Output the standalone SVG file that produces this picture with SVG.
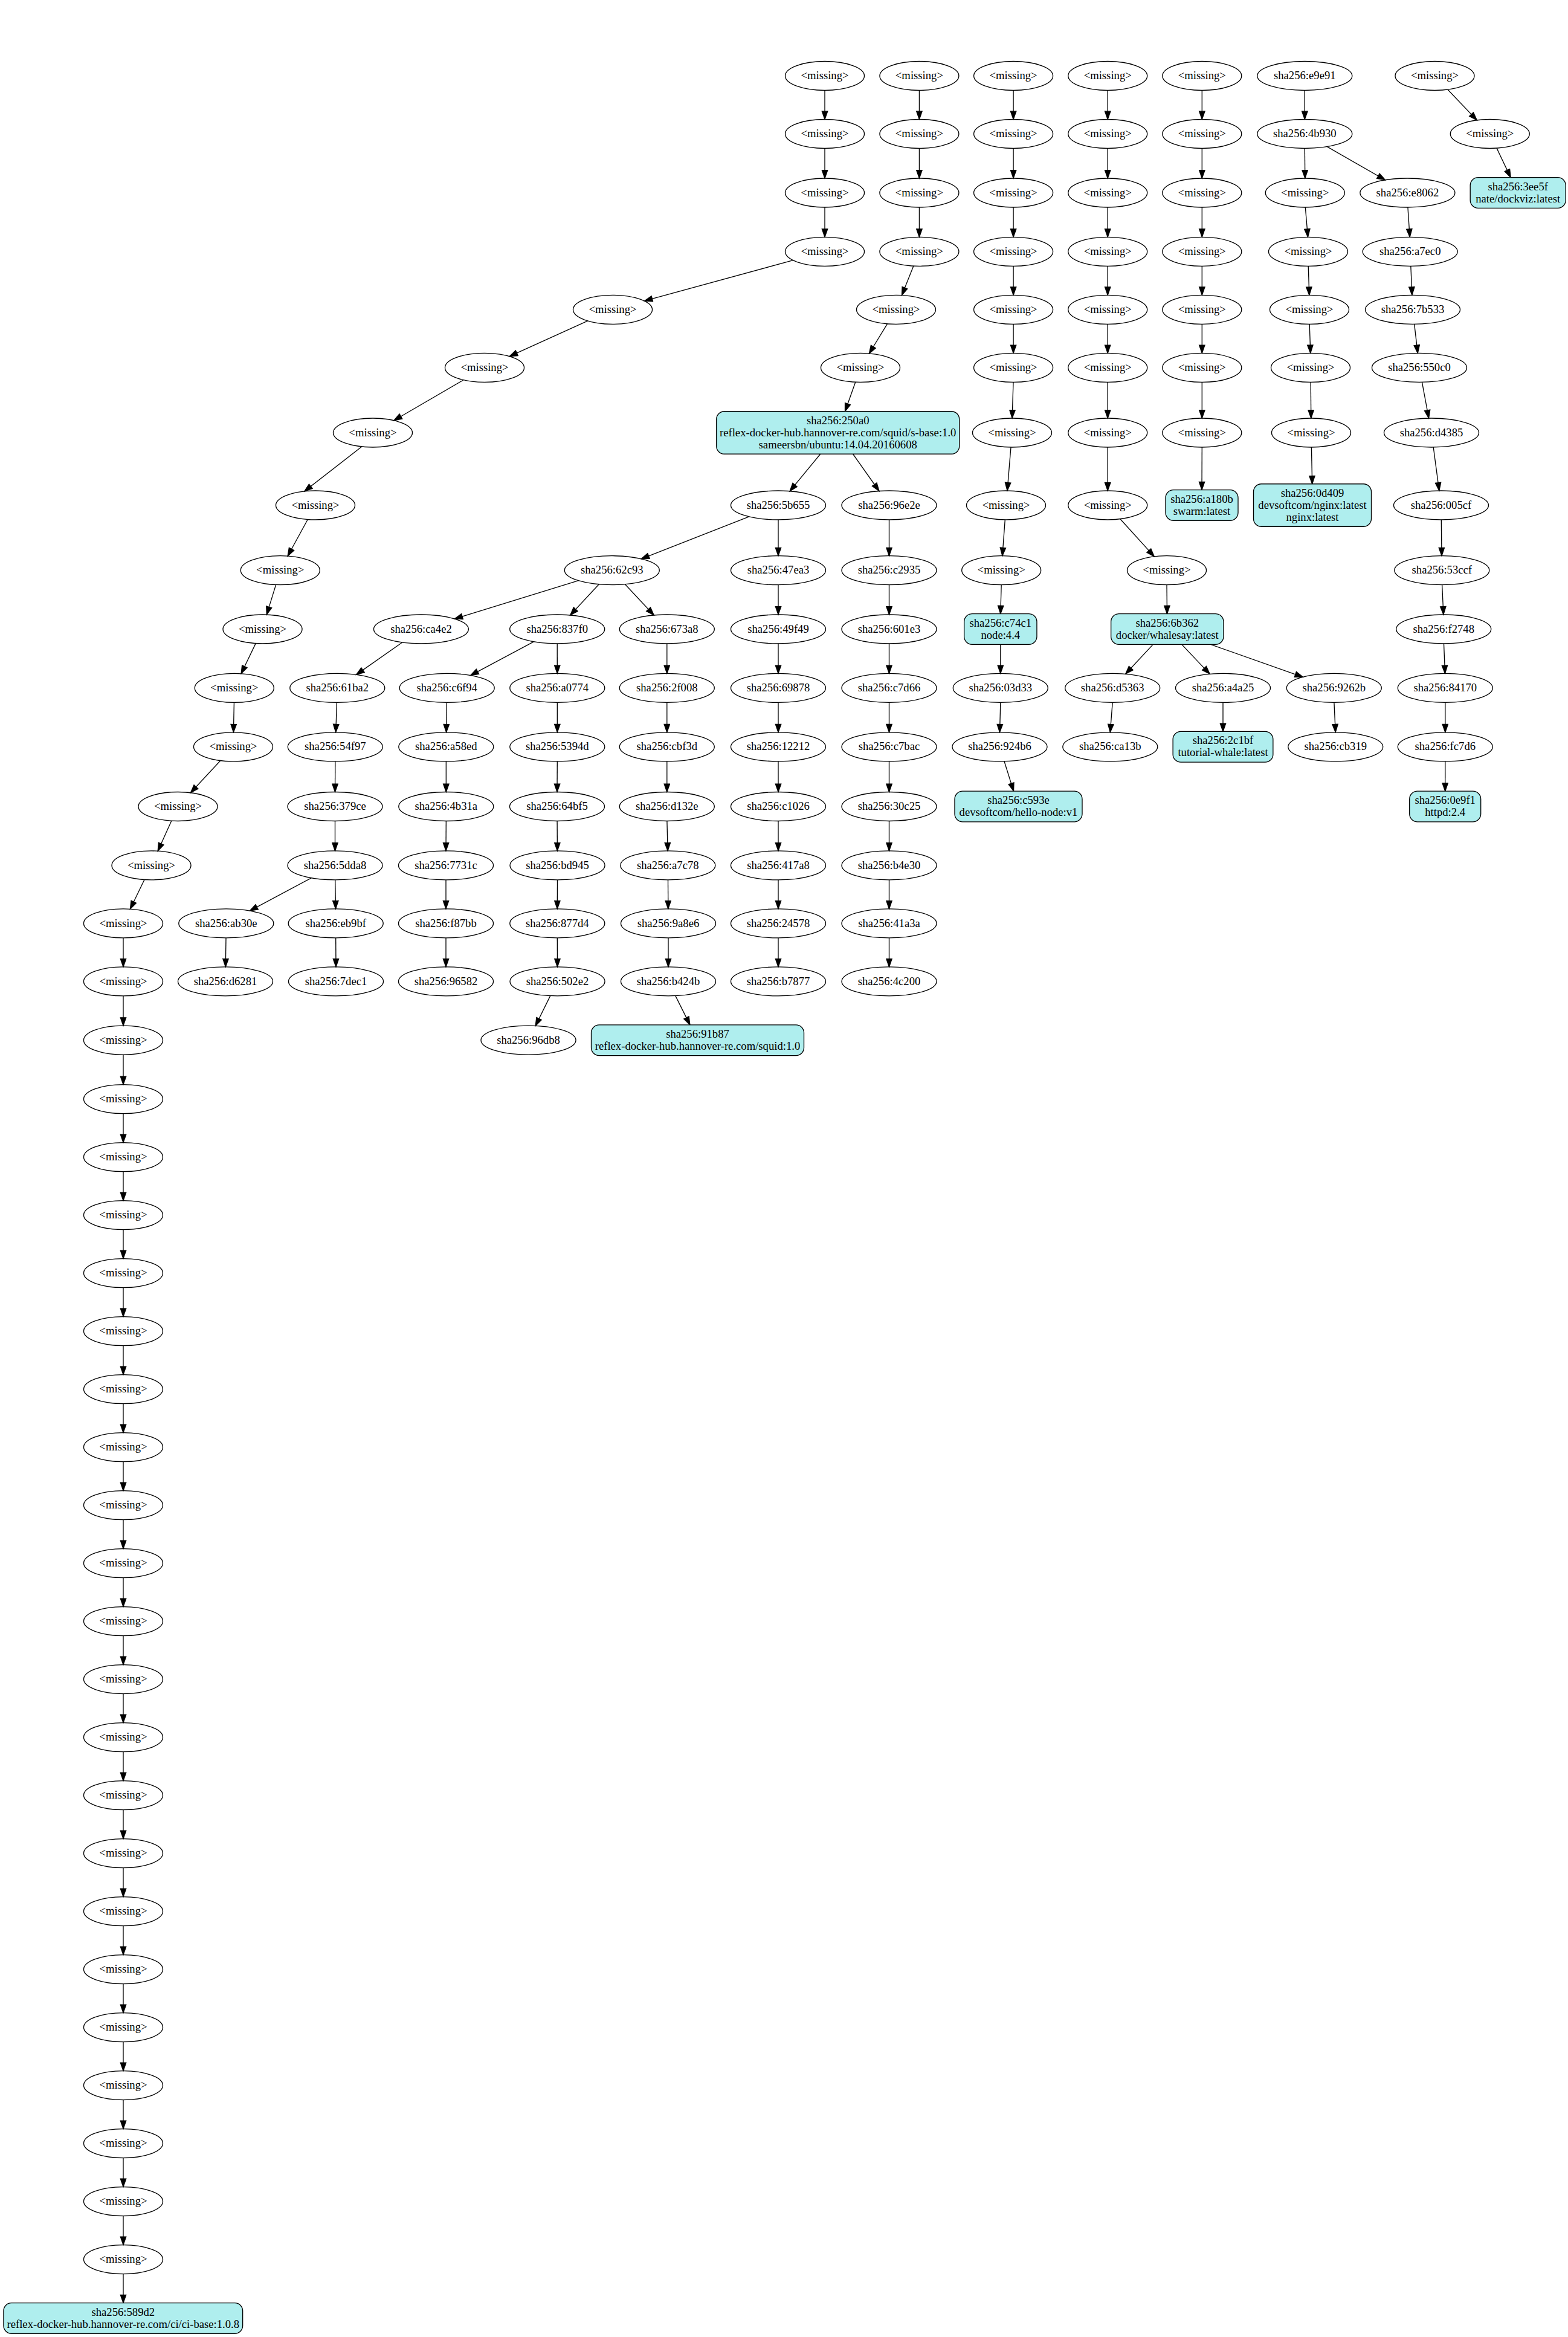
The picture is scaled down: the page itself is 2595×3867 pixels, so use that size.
<svg xmlns="http://www.w3.org/2000/svg" width="2595" height="3867" viewBox="0 0 2595 3867">
<defs>
<marker id="arr" markerUnits="userSpaceOnUse" markerWidth="16" markerHeight="12" viewBox="-1 -1 16 12" refX="13.33" refY="4.67" orient="auto">
<path d="M0,0 L13.33,4.67 L0,9.33 Z" fill="#000" stroke="#000" stroke-width="1.33"/>
</marker>
</defs>
<style>
.e{fill:none;stroke:#000;stroke-width:1.33}
.b{fill:#afeeee;stroke:#000;stroke-width:1.33}
text{font-family:"Liberation Serif","Times New Roman",serif;font-size:18.67px;text-anchor:middle;fill:#000}
#edges line{stroke:#000;stroke-width:1.33;marker-end:url(#arr)}
</style>
<rect width="2595" height="3867" fill="#fff"/>
<g id="edges">
<line x1="1365" y1="149.5" x2="1365" y2="197.5"/>
<line x1="1365" y1="245.5" x2="1365" y2="295"/>
<line x1="1365" y1="343" x2="1365" y2="392.3"/>
<line x1="1312.5" y1="430.65" x2="1066.5" y2="497.95"/>
<line x1="972.8" y1="530.97" x2="843.2" y2="589.73"/>
<line x1="767.1" y1="628.7" x2="651.9" y2="695.7"/>
<line x1="598.75" y1="739.05" x2="503.75" y2="812.95"/>
<line x1="509.3" y1="859.5" x2="476.1" y2="920.2"/>
<line x1="456.6" y1="967.6" x2="441.3" y2="1017.1"/>
<line x1="423.2" y1="1064.6" x2="399.1" y2="1114.8"/>
<line x1="387.4" y1="1162.4" x2="386.4" y2="1211.8"/>
<line x1="364.9" y1="1258.5" x2="315.4" y2="1311.8"/>
<line x1="283.8" y1="1358.2" x2="261.2" y2="1408.2"/>
<line x1="239.05" y1="1455.5" x2="215.45" y2="1504.3"/>
<line x1="204" y1="1551.9" x2="204" y2="1599.9"/>
<line x1="204" y1="1647.9" x2="204" y2="1697.2"/>
<line x1="204" y1="1745.2" x2="204" y2="1794.6"/>
<line x1="204" y1="1842.6" x2="204" y2="1890.6"/>
<line x1="204" y1="1938.6" x2="204" y2="1986.6"/>
<line x1="204" y1="2034.6" x2="204" y2="2082.6"/>
<line x1="204" y1="2130.6" x2="204" y2="2178.6"/>
<line x1="204" y1="2226.6" x2="204" y2="2274.6"/>
<line x1="204" y1="2322.6" x2="204" y2="2370.6"/>
<line x1="204" y1="2418.6" x2="204" y2="2466.6"/>
<line x1="204" y1="2514.6" x2="204" y2="2562.6"/>
<line x1="204" y1="2610.6" x2="204" y2="2658.6"/>
<line x1="204" y1="2706.6" x2="204" y2="2754.6"/>
<line x1="204" y1="2802.6" x2="204" y2="2850.6"/>
<line x1="204" y1="2898.6" x2="204" y2="2946.6"/>
<line x1="204" y1="2994.6" x2="204" y2="3042.6"/>
<line x1="204" y1="3090.6" x2="204" y2="3138.6"/>
<line x1="204" y1="3186.6" x2="204" y2="3234.6"/>
<line x1="204" y1="3282.6" x2="204" y2="3330.6"/>
<line x1="204" y1="3378.6" x2="204" y2="3426.6"/>
<line x1="204" y1="3474.6" x2="204" y2="3522.6"/>
<line x1="204" y1="3570.6" x2="204" y2="3618.6"/>
<line x1="204" y1="3666.6" x2="204" y2="3714.6"/>
<line x1="204" y1="3762.6" x2="204" y2="3810.65"/>
<line x1="1521.4" y1="149.5" x2="1521.4" y2="197.5"/>
<line x1="1521.4" y1="245.5" x2="1521.4" y2="295"/>
<line x1="1521.4" y1="343" x2="1521.4" y2="392.3"/>
<line x1="1511.9" y1="440.05" x2="1492.5" y2="488.55"/>
<line x1="1468.6" y1="535.7" x2="1438.4" y2="585"/>
<line x1="1415.75" y1="632.2" x2="1398.5" y2="680.75"/>
<line x1="1357.7" y1="751.25" x2="1307.15" y2="812.7"/>
<line x1="1411.6" y1="751.25" x2="1454.9" y2="812.5"/>
<line x1="1239.7" y1="854.9" x2="1061.1" y2="924.8"/>
<line x1="1288" y1="860" x2="1288" y2="919.7"/>
<line x1="1471.5" y1="860" x2="1471.5" y2="919.7"/>
<line x1="957.5" y1="960.7" x2="752.3" y2="1024"/>
<line x1="991.3" y1="966.8" x2="943.7" y2="1017.9"/>
<line x1="1034.4" y1="966.8" x2="1082.2" y2="1017.9"/>
<line x1="665.7" y1="1063" x2="589.6" y2="1116.4"/>
<line x1="557.4" y1="1162.4" x2="555.7" y2="1211.8"/>
<line x1="554.8" y1="1259.8" x2="554.5" y2="1310.5"/>
<line x1="554.5" y1="1358.5" x2="554.5" y2="1407.9"/>
<line x1="515.4" y1="1452.7" x2="413.4" y2="1507.1"/>
<line x1="554.7" y1="1455.9" x2="555.5" y2="1503.9"/>
<line x1="374" y1="1551.9" x2="373.3" y2="1599.9"/>
<line x1="555.7" y1="1551.9" x2="556" y2="1599.9"/>
<line x1="883.2" y1="1061.8" x2="778.7" y2="1117.6"/>
<line x1="922.2" y1="1065" x2="922.3" y2="1114.4"/>
<line x1="739.4" y1="1162.4" x2="738.6" y2="1211.8"/>
<line x1="738.3" y1="1259.8" x2="738.3" y2="1310.5"/>
<line x1="738.3" y1="1358.5" x2="738" y2="1407.9"/>
<line x1="738" y1="1455.9" x2="738" y2="1503.9"/>
<line x1="738" y1="1551.9" x2="738" y2="1599.9"/>
<line x1="922.3" y1="1162.4" x2="922.3" y2="1211.8"/>
<line x1="922.3" y1="1259.8" x2="922" y2="1310.5"/>
<line x1="922.1" y1="1358.5" x2="922.4" y2="1407.9"/>
<line x1="922.5" y1="1455.9" x2="922.3" y2="1503.9"/>
<line x1="922.3" y1="1551.9" x2="922.5" y2="1599.9"/>
<line x1="910.8" y1="1647.6" x2="886.2" y2="1697.5"/>
<line x1="1103.8" y1="1065" x2="1103.8" y2="1114.4"/>
<line x1="1103.8" y1="1162.4" x2="1103.8" y2="1211.8"/>
<line x1="1103.8" y1="1259.8" x2="1103.8" y2="1310.5"/>
<line x1="1103.9" y1="1358.5" x2="1105.1" y2="1407.9"/>
<line x1="1105.5" y1="1455.9" x2="1105.8" y2="1503.9"/>
<line x1="1106" y1="1551.9" x2="1106" y2="1599.9"/>
<line x1="1117.8" y1="1647.6" x2="1141.9" y2="1695.85"/>
<line x1="1288" y1="967.7" x2="1288" y2="1017"/>
<line x1="1288" y1="1065" x2="1288" y2="1114.4"/>
<line x1="1288" y1="1162.4" x2="1288" y2="1211.8"/>
<line x1="1288" y1="1259.8" x2="1288" y2="1310.5"/>
<line x1="1288" y1="1358.5" x2="1288" y2="1407.9"/>
<line x1="1288" y1="1455.9" x2="1288" y2="1503.9"/>
<line x1="1288" y1="1551.9" x2="1288" y2="1599.9"/>
<line x1="1471.5" y1="967.7" x2="1471.5" y2="1017"/>
<line x1="1471.5" y1="1065" x2="1471.5" y2="1114.4"/>
<line x1="1471.5" y1="1162.4" x2="1471.5" y2="1211.8"/>
<line x1="1471.5" y1="1259.8" x2="1471.5" y2="1310.5"/>
<line x1="1471.5" y1="1358.5" x2="1471.5" y2="1407.9"/>
<line x1="1471.5" y1="1455.9" x2="1471.5" y2="1503.9"/>
<line x1="1471.5" y1="1551.9" x2="1471.5" y2="1599.9"/>
<line x1="1677.1" y1="149.5" x2="1677.1" y2="197.5"/>
<line x1="1677.1" y1="245.5" x2="1677.1" y2="295"/>
<line x1="1677.1" y1="343" x2="1677.1" y2="392.3"/>
<line x1="1677.1" y1="440.3" x2="1677.1" y2="488.3"/>
<line x1="1677.1" y1="536.3" x2="1677.1" y2="584.4"/>
<line x1="1677" y1="632.4" x2="1675.1" y2="692"/>
<line x1="1673" y1="740" x2="1667" y2="812"/>
<line x1="1663.3" y1="860" x2="1658.9" y2="919.7"/>
<line x1="1657.2" y1="967.7" x2="1655.8" y2="1015.65"/>
<line x1="1655.8" y1="1066.35" x2="1655.8" y2="1114.4"/>
<line x1="1655.8" y1="1162.4" x2="1654.5" y2="1211.8"/>
<line x1="1662" y1="1259.7" x2="1677.5" y2="1309.15"/>
<line x1="1833.2" y1="149.5" x2="1833.2" y2="197.5"/>
<line x1="1833.2" y1="245.5" x2="1833.2" y2="295"/>
<line x1="1833.2" y1="343" x2="1833.2" y2="392.3"/>
<line x1="1833.2" y1="440.3" x2="1833.2" y2="488.3"/>
<line x1="1833.2" y1="536.3" x2="1833.2" y2="584.4"/>
<line x1="1833.2" y1="632.4" x2="1833.2" y2="692"/>
<line x1="1833.2" y1="740" x2="1833.2" y2="812"/>
<line x1="1853.9" y1="858.8" x2="1910.3" y2="920.9"/>
<line x1="1931" y1="967.7" x2="1931.5" y2="1015.65"/>
<line x1="1908.2" y1="1066.35" x2="1862.7" y2="1115.3"/>
<line x1="1955.8" y1="1066.35" x2="2002.2" y2="1115.35"/>
<line x1="2003.6" y1="1066.35" x2="2156.4" y2="1120.3"/>
<line x1="1841.2" y1="1162.4" x2="1837.3" y2="1211.8"/>
<line x1="2024" y1="1162.4" x2="2024" y2="1210.45"/>
<line x1="2207.9" y1="1162.4" x2="2210.2" y2="1211.8"/>
<line x1="1989.3" y1="149.5" x2="1989.3" y2="197.5"/>
<line x1="1989.3" y1="245.5" x2="1989.3" y2="295"/>
<line x1="1989.3" y1="343" x2="1989.3" y2="392.3"/>
<line x1="1989.3" y1="440.3" x2="1989.3" y2="488.3"/>
<line x1="1989.3" y1="536.3" x2="1989.3" y2="584.4"/>
<line x1="1989.3" y1="632.4" x2="1989.3" y2="692"/>
<line x1="1989.3" y1="740" x2="1989" y2="810.65"/>
<line x1="2159.3" y1="149.5" x2="2159.3" y2="197.5"/>
<line x1="2159.3" y1="245.5" x2="2159.8" y2="295"/>
<line x1="2196.25" y1="242.7" x2="2292.45" y2="297.8"/>
<line x1="2160.3" y1="343" x2="2164.5" y2="392.3"/>
<line x1="2165.2" y1="440.3" x2="2166.8" y2="488.3"/>
<line x1="2167.2" y1="536.3" x2="2168.8" y2="584.4"/>
<line x1="2169.2" y1="632.4" x2="2169.8" y2="692"/>
<line x1="2170.4" y1="740" x2="2171.7" y2="800.75"/>
<line x1="2329.9" y1="343" x2="2333.2" y2="392.3"/>
<line x1="2334.8" y1="440.3" x2="2336.9" y2="488.3"/>
<line x1="2340.7" y1="536.3" x2="2346.3" y2="584.4"/>
<line x1="2353.45" y1="632.4" x2="2364.55" y2="692"/>
<line x1="2372.2" y1="740" x2="2381.8" y2="812"/>
<line x1="2385.3" y1="860" x2="2386" y2="919.7"/>
<line x1="2386.6" y1="967.7" x2="2388.9" y2="1017"/>
<line x1="2389.5" y1="1065" x2="2391.5" y2="1114.4"/>
<line x1="2391.8" y1="1162.4" x2="2391.8" y2="1211.8"/>
<line x1="2391.8" y1="1259.8" x2="2391.7" y2="1309.15"/>
<line x1="2396" y1="148.2" x2="2444.25" y2="198.85"/>
<line x1="2477" y1="245.15" x2="2500.1" y2="293.65"/>
</g>
<g id="m1_0"><ellipse class="e" cx="1365" cy="125.5" rx="65.5" ry="24"/><text x="1365" y="131.1">&lt;missing&gt;</text></g>
<g id="m1_1"><ellipse class="e" cx="1365" cy="221.5" rx="65.5" ry="24"/><text x="1365" y="227.1">&lt;missing&gt;</text></g>
<g id="m1_2"><ellipse class="e" cx="1365" cy="319" rx="65.5" ry="24"/><text x="1365" y="324.6">&lt;missing&gt;</text></g>
<g id="m1_3"><ellipse class="e" cx="1365" cy="416.3" rx="65.5" ry="24"/><text x="1365" y="421.9">&lt;missing&gt;</text></g>
<g id="m1_4"><ellipse class="e" cx="1014" cy="512.3" rx="65.5" ry="24"/><text x="1014" y="517.9">&lt;missing&gt;</text></g>
<g id="m1_5"><ellipse class="e" cx="802" cy="608.4" rx="65.5" ry="24"/><text x="802" y="614">&lt;missing&gt;</text></g>
<g id="m1_6"><ellipse class="e" cx="617" cy="716" rx="65.5" ry="24"/><text x="617" y="721.6">&lt;missing&gt;</text></g>
<g id="m1_7"><ellipse class="e" cx="522" cy="836" rx="65.5" ry="24"/><text x="522" y="841.6">&lt;missing&gt;</text></g>
<g id="m1_8"><ellipse class="e" cx="463.8" cy="943.7" rx="65.5" ry="24"/><text x="463.8" y="949.3">&lt;missing&gt;</text></g>
<g id="m1_9"><ellipse class="e" cx="434.5" cy="1041" rx="65.5" ry="24"/><text x="434.5" y="1046.6">&lt;missing&gt;</text></g>
<g id="m1_10"><ellipse class="e" cx="387.8" cy="1138.4" rx="65.5" ry="24"/><text x="387.8" y="1144">&lt;missing&gt;</text></g>
<g id="m1_11"><ellipse class="e" cx="386" cy="1235.8" rx="65.5" ry="24"/><text x="386" y="1241.4">&lt;missing&gt;</text></g>
<g id="m1_12"><ellipse class="e" cx="294.5" cy="1334.5" rx="65.5" ry="24"/><text x="294.5" y="1340.1">&lt;missing&gt;</text></g>
<g id="m1_13"><ellipse class="e" cx="250.5" cy="1431.9" rx="65.5" ry="24"/><text x="250.5" y="1437.5">&lt;missing&gt;</text></g>
<g id="m1_14"><ellipse class="e" cx="204" cy="1527.9" rx="65.5" ry="24"/><text x="204" y="1533.5">&lt;missing&gt;</text></g>
<g id="m1_15"><ellipse class="e" cx="204" cy="1623.9" rx="65.5" ry="24"/><text x="204" y="1629.5">&lt;missing&gt;</text></g>
<g id="m1_16"><ellipse class="e" cx="204" cy="1721.2" rx="65.5" ry="24"/><text x="204" y="1726.8">&lt;missing&gt;</text></g>
<g id="m1_17"><ellipse class="e" cx="204" cy="1818.6" rx="65.5" ry="24"/><text x="204" y="1824.2">&lt;missing&gt;</text></g>
<g id="m1_18"><ellipse class="e" cx="204" cy="1914.6" rx="65.5" ry="24"/><text x="204" y="1920.2">&lt;missing&gt;</text></g>
<g id="m1_19"><ellipse class="e" cx="204" cy="2010.6" rx="65.5" ry="24"/><text x="204" y="2016.2">&lt;missing&gt;</text></g>
<g id="m1_20"><ellipse class="e" cx="204" cy="2106.6" rx="65.5" ry="24"/><text x="204" y="2112.2">&lt;missing&gt;</text></g>
<g id="m1_21"><ellipse class="e" cx="204" cy="2202.6" rx="65.5" ry="24"/><text x="204" y="2208.2">&lt;missing&gt;</text></g>
<g id="m1_22"><ellipse class="e" cx="204" cy="2298.6" rx="65.5" ry="24"/><text x="204" y="2304.2">&lt;missing&gt;</text></g>
<g id="m1_23"><ellipse class="e" cx="204" cy="2394.6" rx="65.5" ry="24"/><text x="204" y="2400.2">&lt;missing&gt;</text></g>
<g id="m1_24"><ellipse class="e" cx="204" cy="2490.6" rx="65.5" ry="24"/><text x="204" y="2496.2">&lt;missing&gt;</text></g>
<g id="m1_25"><ellipse class="e" cx="204" cy="2586.6" rx="65.5" ry="24"/><text x="204" y="2592.2">&lt;missing&gt;</text></g>
<g id="m1_26"><ellipse class="e" cx="204" cy="2682.6" rx="65.5" ry="24"/><text x="204" y="2688.2">&lt;missing&gt;</text></g>
<g id="m1_27"><ellipse class="e" cx="204" cy="2778.6" rx="65.5" ry="24"/><text x="204" y="2784.2">&lt;missing&gt;</text></g>
<g id="m1_28"><ellipse class="e" cx="204" cy="2874.6" rx="65.5" ry="24"/><text x="204" y="2880.2">&lt;missing&gt;</text></g>
<g id="m1_29"><ellipse class="e" cx="204" cy="2970.6" rx="65.5" ry="24"/><text x="204" y="2976.2">&lt;missing&gt;</text></g>
<g id="m1_30"><ellipse class="e" cx="204" cy="3066.6" rx="65.5" ry="24"/><text x="204" y="3072.2">&lt;missing&gt;</text></g>
<g id="m1_31"><ellipse class="e" cx="204" cy="3162.6" rx="65.5" ry="24"/><text x="204" y="3168.2">&lt;missing&gt;</text></g>
<g id="m1_32"><ellipse class="e" cx="204" cy="3258.6" rx="65.5" ry="24"/><text x="204" y="3264.2">&lt;missing&gt;</text></g>
<g id="m1_33"><ellipse class="e" cx="204" cy="3354.6" rx="65.5" ry="24"/><text x="204" y="3360.2">&lt;missing&gt;</text></g>
<g id="m1_34"><ellipse class="e" cx="204" cy="3450.6" rx="65.5" ry="24"/><text x="204" y="3456.2">&lt;missing&gt;</text></g>
<g id="m1_35"><ellipse class="e" cx="204" cy="3546.6" rx="65.5" ry="24"/><text x="204" y="3552.2">&lt;missing&gt;</text></g>
<g id="m1_36"><ellipse class="e" cx="204" cy="3642.6" rx="65.5" ry="24"/><text x="204" y="3648.2">&lt;missing&gt;</text></g>
<g id="m1_37"><ellipse class="e" cx="204" cy="3738.6" rx="65.5" ry="24"/><text x="204" y="3744.2">&lt;missing&gt;</text></g>
<g id="n_589d2"><rect class="b" x="5.95" y="3810.65" width="395.7" height="50.7" rx="13" ry="13"/><text x="203.8" y="3831.6">sha256:589d2</text><text x="203.8" y="3851.6">reflex-docker-hub.hannover-re.com/ci/ci-base:1.0.8</text></g>
<g id="m2_0"><ellipse class="e" cx="1521.4" cy="125.5" rx="65.5" ry="24"/><text x="1521.4" y="131.1">&lt;missing&gt;</text></g>
<g id="m2_1"><ellipse class="e" cx="1521.4" cy="221.5" rx="65.5" ry="24"/><text x="1521.4" y="227.1">&lt;missing&gt;</text></g>
<g id="m2_2"><ellipse class="e" cx="1521.4" cy="319" rx="65.5" ry="24"/><text x="1521.4" y="324.6">&lt;missing&gt;</text></g>
<g id="m2_3"><ellipse class="e" cx="1521.4" cy="416.3" rx="65.5" ry="24"/><text x="1521.4" y="421.9">&lt;missing&gt;</text></g>
<g id="m2_4"><ellipse class="e" cx="1483" cy="512.3" rx="65.5" ry="24"/><text x="1483" y="517.9">&lt;missing&gt;</text></g>
<g id="m2_5"><ellipse class="e" cx="1424" cy="608.4" rx="65.5" ry="24"/><text x="1424" y="614">&lt;missing&gt;</text></g>
<g id="n_250a0"><rect class="b" x="1185.7" y="680.75" width="402" height="70.5" rx="13" ry="13"/><text x="1386.7" y="701.6">sha256:250a0</text><text x="1386.7" y="721.6">reflex-docker-hub.hannover-re.com/squid/s-base:1.0</text><text x="1386.7" y="741.6">sameersbn/ubuntu:14.04.20160608</text></g>
<g id="n_5b655"><ellipse class="e" cx="1288" cy="836" rx="78.5" ry="24"/><text x="1288" y="841.6">sha256:5b655</text></g>
<g id="n_96e2e"><ellipse class="e" cx="1471.5" cy="836" rx="78.5" ry="24"/><text x="1471.5" y="841.6">sha256:96e2e</text></g>
<g id="n_62c93"><ellipse class="e" cx="1012.8" cy="943.7" rx="78.5" ry="24"/><text x="1012.8" y="949.3">sha256:62c93</text></g>
<g id="n_47ea3"><ellipse class="e" cx="1288" cy="943.7" rx="78.5" ry="24"/><text x="1288" y="949.3">sha256:47ea3</text></g>
<g id="n_c2935"><ellipse class="e" cx="1471.5" cy="943.7" rx="78.5" ry="24"/><text x="1471.5" y="949.3">sha256:c2935</text></g>
<g id="n_ca4e2"><ellipse class="e" cx="697" cy="1041" rx="78.5" ry="24"/><text x="697" y="1046.6">sha256:ca4e2</text></g>
<g id="n_837f0"><ellipse class="e" cx="922.2" cy="1041" rx="78.5" ry="24"/><text x="922.2" y="1046.6">sha256:837f0</text></g>
<g id="n_673a8"><ellipse class="e" cx="1103.8" cy="1041" rx="78.5" ry="24"/><text x="1103.8" y="1046.6">sha256:673a8</text></g>
<g id="n_49f49"><ellipse class="e" cx="1288" cy="1041" rx="78.5" ry="24"/><text x="1288" y="1046.6">sha256:49f49</text></g>
<g id="n_601e3"><ellipse class="e" cx="1471.5" cy="1041" rx="78.5" ry="24"/><text x="1471.5" y="1046.6">sha256:601e3</text></g>
<g id="n_61ba2"><ellipse class="e" cx="558.3" cy="1138.4" rx="78.5" ry="24"/><text x="558.3" y="1144">sha256:61ba2</text></g>
<g id="n_c6f94"><ellipse class="e" cx="739.7" cy="1138.4" rx="78.5" ry="24"/><text x="739.7" y="1144">sha256:c6f94</text></g>
<g id="n_a0774"><ellipse class="e" cx="922.3" cy="1138.4" rx="78.5" ry="24"/><text x="922.3" y="1144">sha256:a0774</text></g>
<g id="n_2f008"><ellipse class="e" cx="1103.8" cy="1138.4" rx="78.5" ry="24"/><text x="1103.8" y="1144">sha256:2f008</text></g>
<g id="n_69878"><ellipse class="e" cx="1288" cy="1138.4" rx="78.5" ry="24"/><text x="1288" y="1144">sha256:69878</text></g>
<g id="n_c7d66"><ellipse class="e" cx="1471.5" cy="1138.4" rx="78.5" ry="24"/><text x="1471.5" y="1144">sha256:c7d66</text></g>
<g id="n_54f97"><ellipse class="e" cx="554.8" cy="1235.8" rx="78.5" ry="24"/><text x="554.8" y="1241.4">sha256:54f97</text></g>
<g id="n_a58ed"><ellipse class="e" cx="738.3" cy="1235.8" rx="78.5" ry="24"/><text x="738.3" y="1241.4">sha256:a58ed</text></g>
<g id="n_5394d"><ellipse class="e" cx="922.3" cy="1235.8" rx="78.5" ry="24"/><text x="922.3" y="1241.4">sha256:5394d</text></g>
<g id="n_cbf3d"><ellipse class="e" cx="1103.8" cy="1235.8" rx="78.5" ry="24"/><text x="1103.8" y="1241.4">sha256:cbf3d</text></g>
<g id="n_12212"><ellipse class="e" cx="1288" cy="1235.8" rx="78.5" ry="24"/><text x="1288" y="1241.4">sha256:12212</text></g>
<g id="n_c7bac"><ellipse class="e" cx="1471.5" cy="1235.8" rx="78.5" ry="24"/><text x="1471.5" y="1241.4">sha256:c7bac</text></g>
<g id="n_379ce"><ellipse class="e" cx="554.5" cy="1334.5" rx="78.5" ry="24"/><text x="554.5" y="1340.1">sha256:379ce</text></g>
<g id="n_4b31a"><ellipse class="e" cx="738.3" cy="1334.5" rx="78.5" ry="24"/><text x="738.3" y="1340.1">sha256:4b31a</text></g>
<g id="n_64bf5"><ellipse class="e" cx="922" cy="1334.5" rx="78.5" ry="24"/><text x="922" y="1340.1">sha256:64bf5</text></g>
<g id="n_d132e"><ellipse class="e" cx="1103.8" cy="1334.5" rx="78.5" ry="24"/><text x="1103.8" y="1340.1">sha256:d132e</text></g>
<g id="n_c1026"><ellipse class="e" cx="1288" cy="1334.5" rx="78.5" ry="24"/><text x="1288" y="1340.1">sha256:c1026</text></g>
<g id="n_30c25"><ellipse class="e" cx="1471.5" cy="1334.5" rx="78.5" ry="24"/><text x="1471.5" y="1340.1">sha256:30c25</text></g>
<g id="n_5dda8"><ellipse class="e" cx="554.5" cy="1431.9" rx="78.5" ry="24"/><text x="554.5" y="1437.5">sha256:5dda8</text></g>
<g id="n_7731c"><ellipse class="e" cx="738" cy="1431.9" rx="78.5" ry="24"/><text x="738" y="1437.5">sha256:7731c</text></g>
<g id="n_bd945"><ellipse class="e" cx="922.5" cy="1431.9" rx="78.5" ry="24"/><text x="922.5" y="1437.5">sha256:bd945</text></g>
<g id="n_a7c78"><ellipse class="e" cx="1105.3" cy="1431.9" rx="78.5" ry="24"/><text x="1105.3" y="1437.5">sha256:a7c78</text></g>
<g id="n_417a8"><ellipse class="e" cx="1288" cy="1431.9" rx="78.5" ry="24"/><text x="1288" y="1437.5">sha256:417a8</text></g>
<g id="n_b4e30"><ellipse class="e" cx="1471.5" cy="1431.9" rx="78.5" ry="24"/><text x="1471.5" y="1437.5">sha256:b4e30</text></g>
<g id="n_ab30e"><ellipse class="e" cx="374.3" cy="1527.9" rx="78.5" ry="24"/><text x="374.3" y="1533.5">sha256:ab30e</text></g>
<g id="n_eb9bf"><ellipse class="e" cx="555.7" cy="1527.9" rx="78.5" ry="24"/><text x="555.7" y="1533.5">sha256:eb9bf</text></g>
<g id="n_f87bb"><ellipse class="e" cx="738" cy="1527.9" rx="78.5" ry="24"/><text x="738" y="1533.5">sha256:f87bb</text></g>
<g id="n_877d4"><ellipse class="e" cx="922.3" cy="1527.9" rx="78.5" ry="24"/><text x="922.3" y="1533.5">sha256:877d4</text></g>
<g id="n_9a8e6"><ellipse class="e" cx="1106" cy="1527.9" rx="78.5" ry="24"/><text x="1106" y="1533.5">sha256:9a8e6</text></g>
<g id="n_24578"><ellipse class="e" cx="1288" cy="1527.9" rx="78.5" ry="24"/><text x="1288" y="1533.5">sha256:24578</text></g>
<g id="n_41a3a"><ellipse class="e" cx="1471.5" cy="1527.9" rx="78.5" ry="24"/><text x="1471.5" y="1533.5">sha256:41a3a</text></g>
<g id="n_d6281"><ellipse class="e" cx="373" cy="1623.9" rx="78.5" ry="24"/><text x="373" y="1629.5">sha256:d6281</text></g>
<g id="n_7dec1"><ellipse class="e" cx="556" cy="1623.9" rx="78.5" ry="24"/><text x="556" y="1629.5">sha256:7dec1</text></g>
<g id="n_96582"><ellipse class="e" cx="738" cy="1623.9" rx="78.5" ry="24"/><text x="738" y="1629.5">sha256:96582</text></g>
<g id="n_502e2"><ellipse class="e" cx="922.5" cy="1623.9" rx="78.5" ry="24"/><text x="922.5" y="1629.5">sha256:502e2</text></g>
<g id="n_b424b"><ellipse class="e" cx="1106" cy="1623.9" rx="78.5" ry="24"/><text x="1106" y="1629.5">sha256:b424b</text></g>
<g id="n_b7877"><ellipse class="e" cx="1288" cy="1623.9" rx="78.5" ry="24"/><text x="1288" y="1629.5">sha256:b7877</text></g>
<g id="n_4c200"><ellipse class="e" cx="1471.5" cy="1623.9" rx="78.5" ry="24"/><text x="1471.5" y="1629.5">sha256:4c200</text></g>
<g id="n_96db8"><ellipse class="e" cx="874.5" cy="1721.2" rx="78.5" ry="24"/><text x="874.5" y="1726.8">sha256:96db8</text></g>
<g id="n_91b87"><rect class="b" x="978.5" y="1695.85" width="352" height="50.7" rx="13" ry="13"/><text x="1154.5" y="1716.8">sha256:91b87</text><text x="1154.5" y="1736.8">reflex-docker-hub.hannover-re.com/squid:1.0</text></g>
<g id="m3_0"><ellipse class="e" cx="1677.1" cy="125.5" rx="65.5" ry="24"/><text x="1677.1" y="131.1">&lt;missing&gt;</text></g>
<g id="m3_1"><ellipse class="e" cx="1677.1" cy="221.5" rx="65.5" ry="24"/><text x="1677.1" y="227.1">&lt;missing&gt;</text></g>
<g id="m3_2"><ellipse class="e" cx="1677.1" cy="319" rx="65.5" ry="24"/><text x="1677.1" y="324.6">&lt;missing&gt;</text></g>
<g id="m3_3"><ellipse class="e" cx="1677.1" cy="416.3" rx="65.5" ry="24"/><text x="1677.1" y="421.9">&lt;missing&gt;</text></g>
<g id="m3_4"><ellipse class="e" cx="1677.1" cy="512.3" rx="65.5" ry="24"/><text x="1677.1" y="517.9">&lt;missing&gt;</text></g>
<g id="m3_5"><ellipse class="e" cx="1677.1" cy="608.4" rx="65.5" ry="24"/><text x="1677.1" y="614">&lt;missing&gt;</text></g>
<g id="m3_6"><ellipse class="e" cx="1675" cy="716" rx="65.5" ry="24"/><text x="1675" y="721.6">&lt;missing&gt;</text></g>
<g id="m3_7"><ellipse class="e" cx="1665" cy="836" rx="65.5" ry="24"/><text x="1665" y="841.6">&lt;missing&gt;</text></g>
<g id="m3_8"><ellipse class="e" cx="1657.2" cy="943.7" rx="65.5" ry="24"/><text x="1657.2" y="949.3">&lt;missing&gt;</text></g>
<g id="n_c74c1"><rect class="b" x="1595.65" y="1015.65" width="120.3" height="50.7" rx="13" ry="13"/><text x="1655.8" y="1036.6">sha256:c74c1</text><text x="1655.8" y="1056.6">node:4.4</text></g>
<g id="n_03d33"><ellipse class="e" cx="1655.8" cy="1138.4" rx="78.5" ry="24"/><text x="1655.8" y="1144">sha256:03d33</text></g>
<g id="n_924b6"><ellipse class="e" cx="1654.5" cy="1235.8" rx="78.5" ry="24"/><text x="1654.5" y="1241.4">sha256:924b6</text></g>
<g id="n_c593e"><rect class="b" x="1580" y="1309.15" width="211" height="50.7" rx="13" ry="13"/><text x="1685.5" y="1330.1">sha256:c593e</text><text x="1685.5" y="1350.1">devsoftcom/hello-node:v1</text></g>
<g id="m4_0"><ellipse class="e" cx="1833.2" cy="125.5" rx="65.5" ry="24"/><text x="1833.2" y="131.1">&lt;missing&gt;</text></g>
<g id="m4_1"><ellipse class="e" cx="1833.2" cy="221.5" rx="65.5" ry="24"/><text x="1833.2" y="227.1">&lt;missing&gt;</text></g>
<g id="m4_2"><ellipse class="e" cx="1833.2" cy="319" rx="65.5" ry="24"/><text x="1833.2" y="324.6">&lt;missing&gt;</text></g>
<g id="m4_3"><ellipse class="e" cx="1833.2" cy="416.3" rx="65.5" ry="24"/><text x="1833.2" y="421.9">&lt;missing&gt;</text></g>
<g id="m4_4"><ellipse class="e" cx="1833.2" cy="512.3" rx="65.5" ry="24"/><text x="1833.2" y="517.9">&lt;missing&gt;</text></g>
<g id="m4_5"><ellipse class="e" cx="1833.2" cy="608.4" rx="65.5" ry="24"/><text x="1833.2" y="614">&lt;missing&gt;</text></g>
<g id="m4_6"><ellipse class="e" cx="1833.2" cy="716" rx="65.5" ry="24"/><text x="1833.2" y="721.6">&lt;missing&gt;</text></g>
<g id="m4_7"><ellipse class="e" cx="1833.2" cy="836" rx="65.5" ry="24"/><text x="1833.2" y="841.6">&lt;missing&gt;</text></g>
<g id="m4_8"><ellipse class="e" cx="1931" cy="943.7" rx="65.5" ry="24"/><text x="1931" y="949.3">&lt;missing&gt;</text></g>
<g id="n_6b362"><rect class="b" x="1838.65" y="1015.65" width="186.3" height="50.7" rx="13" ry="13"/><text x="1931.8" y="1036.6">sha256:6b362</text><text x="1931.8" y="1056.6">docker/whalesay:latest</text></g>
<g id="n_d5363"><ellipse class="e" cx="1841.2" cy="1138.4" rx="78.5" ry="24"/><text x="1841.2" y="1144">sha256:d5363</text></g>
<g id="n_ca13b"><ellipse class="e" cx="1837.3" cy="1235.8" rx="78.5" ry="24"/><text x="1837.3" y="1241.4">sha256:ca13b</text></g>
<g id="n_a4a25"><ellipse class="e" cx="2024" cy="1138.4" rx="78.5" ry="24"/><text x="2024" y="1144">sha256:a4a25</text></g>
<g id="n_2c1bf"><rect class="b" x="1941.15" y="1210.45" width="165.7" height="50.7" rx="13" ry="13"/><text x="2024" y="1231.4">sha256:2c1bf</text><text x="2024" y="1251.4">tutorial-whale:latest</text></g>
<g id="n_9262b"><ellipse class="e" cx="2207.8" cy="1138.4" rx="78.5" ry="24"/><text x="2207.8" y="1144">sha256:9262b</text></g>
<g id="n_cb319"><ellipse class="e" cx="2210.3" cy="1235.8" rx="78.5" ry="24"/><text x="2210.3" y="1241.4">sha256:cb319</text></g>
<g id="m5_0"><ellipse class="e" cx="1989.3" cy="125.5" rx="65.5" ry="24"/><text x="1989.3" y="131.1">&lt;missing&gt;</text></g>
<g id="m5_1"><ellipse class="e" cx="1989.3" cy="221.5" rx="65.5" ry="24"/><text x="1989.3" y="227.1">&lt;missing&gt;</text></g>
<g id="m5_2"><ellipse class="e" cx="1989.3" cy="319" rx="65.5" ry="24"/><text x="1989.3" y="324.6">&lt;missing&gt;</text></g>
<g id="m5_3"><ellipse class="e" cx="1989.3" cy="416.3" rx="65.5" ry="24"/><text x="1989.3" y="421.9">&lt;missing&gt;</text></g>
<g id="m5_4"><ellipse class="e" cx="1989.3" cy="512.3" rx="65.5" ry="24"/><text x="1989.3" y="517.9">&lt;missing&gt;</text></g>
<g id="m5_5"><ellipse class="e" cx="1989.3" cy="608.4" rx="65.5" ry="24"/><text x="1989.3" y="614">&lt;missing&gt;</text></g>
<g id="m5_6"><ellipse class="e" cx="1989.3" cy="716" rx="65.5" ry="24"/><text x="1989.3" y="721.6">&lt;missing&gt;</text></g>
<g id="n_a180b"><rect class="b" x="1929" y="810.65" width="120" height="50.7" rx="13" ry="13"/><text x="1989" y="831.6">sha256:a180b</text><text x="1989" y="851.6">swarm:latest</text></g>
<g id="n_e9e91"><ellipse class="e" cx="2159.3" cy="125.5" rx="78.5" ry="24"/><text x="2159.3" y="131.1">sha256:e9e91</text></g>
<g id="n_4b930"><ellipse class="e" cx="2159.3" cy="221.5" rx="78.5" ry="24"/><text x="2159.3" y="227.1">sha256:4b930</text></g>
<g id="m6_2"><ellipse class="e" cx="2159.8" cy="319" rx="65.5" ry="24"/><text x="2159.8" y="324.6">&lt;missing&gt;</text></g>
<g id="m6_3"><ellipse class="e" cx="2165" cy="416.3" rx="65.5" ry="24"/><text x="2165" y="421.9">&lt;missing&gt;</text></g>
<g id="m6_4"><ellipse class="e" cx="2167" cy="512.3" rx="65.5" ry="24"/><text x="2167" y="517.9">&lt;missing&gt;</text></g>
<g id="m6_5"><ellipse class="e" cx="2169" cy="608.4" rx="65.5" ry="24"/><text x="2169" y="614">&lt;missing&gt;</text></g>
<g id="m6_6"><ellipse class="e" cx="2170" cy="716" rx="65.5" ry="24"/><text x="2170" y="721.6">&lt;missing&gt;</text></g>
<g id="n_0d409"><rect class="b" x="2074.5" y="800.75" width="195" height="70.5" rx="13" ry="13"/><text x="2172" y="821.6">sha256:0d409</text><text x="2172" y="841.6">devsoftcom/nginx:latest</text><text x="2172" y="861.6">nginx:latest</text></g>
<g id="n_e8062"><ellipse class="e" cx="2329.4" cy="319" rx="78.5" ry="24"/><text x="2329.4" y="324.6">sha256:e8062</text></g>
<g id="n_a7ec0"><ellipse class="e" cx="2333.7" cy="416.3" rx="78.5" ry="24"/><text x="2333.7" y="421.9">sha256:a7ec0</text></g>
<g id="n_7b533"><ellipse class="e" cx="2338" cy="512.3" rx="78.5" ry="24"/><text x="2338" y="517.9">sha256:7b533</text></g>
<g id="n_550c0"><ellipse class="e" cx="2349" cy="608.4" rx="78.5" ry="24"/><text x="2349" y="614">sha256:550c0</text></g>
<g id="n_d4385"><ellipse class="e" cx="2369" cy="716" rx="78.5" ry="24"/><text x="2369" y="721.6">sha256:d4385</text></g>
<g id="n_005cf"><ellipse class="e" cx="2385" cy="836" rx="78.5" ry="24"/><text x="2385" y="841.6">sha256:005cf</text></g>
<g id="n_53ccf"><ellipse class="e" cx="2386.3" cy="943.7" rx="78.5" ry="24"/><text x="2386.3" y="949.3">sha256:53ccf</text></g>
<g id="n_f2748"><ellipse class="e" cx="2389.2" cy="1041" rx="78.5" ry="24"/><text x="2389.2" y="1046.6">sha256:f2748</text></g>
<g id="n_84170"><ellipse class="e" cx="2391.8" cy="1138.4" rx="78.5" ry="24"/><text x="2391.8" y="1144">sha256:84170</text></g>
<g id="n_fc7d6"><ellipse class="e" cx="2391.8" cy="1235.8" rx="78.5" ry="24"/><text x="2391.8" y="1241.4">sha256:fc7d6</text></g>
<g id="n_0e9f1"><rect class="b" x="2332.7" y="1309.15" width="118" height="50.7" rx="13" ry="13"/><text x="2391.7" y="1330.1">sha256:0e9f1</text><text x="2391.7" y="1350.1">httpd:2.4</text></g>
<g id="m8_0"><ellipse class="e" cx="2374.5" cy="125.5" rx="65.5" ry="24"/><text x="2374.5" y="131.1">&lt;missing&gt;</text></g>
<g id="m8_1"><ellipse class="e" cx="2465.8" cy="221.5" rx="65.5" ry="24"/><text x="2465.8" y="227.1">&lt;missing&gt;</text></g>
<g id="n_3ee5f"><rect class="b" x="2433.2" y="293.65" width="158" height="50.7" rx="13" ry="13"/><text x="2512.2" y="314.6">sha256:3ee5f</text><text x="2512.2" y="334.6">nate/dockviz:latest</text></g>
</svg>
